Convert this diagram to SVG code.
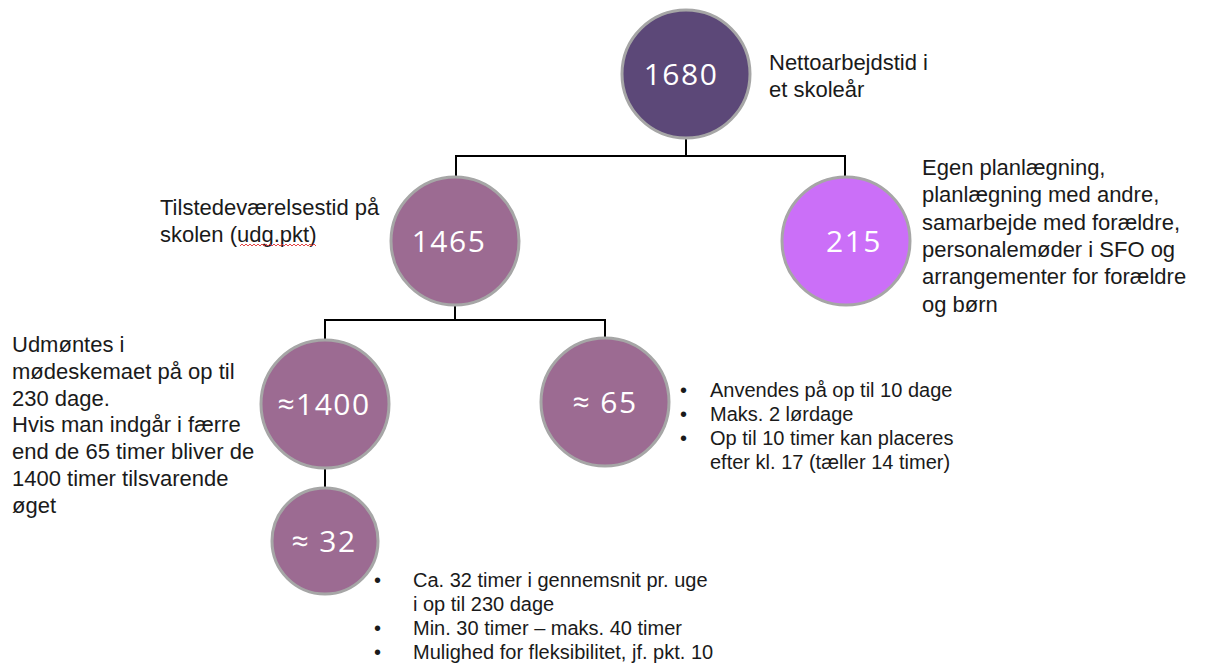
<svg xmlns="http://www.w3.org/2000/svg" width="1205" height="663" viewBox="0 0 1205 663">
<style>
.node circle{stroke:#A6A6A6;stroke-width:3}
.dark{fill:#5C4878}
.mauve{fill:#9C6B92}
.pink{fill:#CB6FF8}
.num{font-family:"Open Sans","Liberation Sans",sans-serif;font-size:30px;fill:#FFFFFF;text-anchor:middle;letter-spacing:1.5px}
.lbl{font-family:"Liberation Sans",Arial,sans-serif;font-size:22px;fill:#1A1A1A}
.bul{font-family:"Liberation Sans",Arial,sans-serif;font-size:20px;fill:#1A1A1A}
.conn{fill:none;stroke:#000000;stroke-width:2}
</style>
<rect width="1205" height="663" fill="#FFFFFF"/>
<g id="connectors">
<path class="conn" d="M686,138 V156 M456,156 H845 M456,155 V177 M845,155 V178"/>
<path class="conn" d="M455,306 V320 M325,320 H605 M325,319 V341 M605,319 V338"/>
<path class="conn" d="M325,469 V487"/>
</g>
<g id="n1680" class="node">
<circle class="dark" cx="686" cy="74" r="64"/>
<text class="num" x="681" y="85">1680</text>
</g>
<g id="l1680">
<text class="lbl" x="769" y="70">Nettoarbejdstid i</text>
<text class="lbl" x="769" y="97">et skoleår</text>
</g>
<g id="n1465" class="node">
<circle class="mauve" cx="455" cy="241" r="64"/>
<text class="num" x="449" y="252">1465</text>
</g>
<g id="l1465">
<text class="lbl" x="160" y="215">Tilstedeværelsestid på</text>
<text class="lbl" x="160" y="242">skolen (udg.pkt)</text>
<path d="M240,246 l2,-2 l2,2 l2,-2 l2,2 l2,-2 l2,2 l2,-2 l2,2 l2,-2 l2,2 l2,-2 l2,2 l2,-2 l2,2 l2,-2 l2,2 l2,-2 l2,2 l2,-2 l2,2 l2,-2 l2,2 l2,-2 l2,2 l2,-2 l2,2 l2,-2 l2,2 l2,-2 l2,2 l2,-2 l2,2 l2,-2 l2,2 l2,-2 l2,2 l2,-2 l2,2" fill="none" stroke="#E03030" stroke-width="0.9"/>
</g>
<g id="n215" class="node">
<circle class="pink" cx="846" cy="241" r="64"/>
<text class="num" x="854" y="252">215</text>
</g>
<g id="l215">
<text class="lbl" x="922" y="175">Egen planlægning,</text>
<text class="lbl" x="922" y="202">planlægning med andre,</text>
<text class="lbl" x="922" y="230">samarbejde med forældre,</text>
<text class="lbl" x="922" y="257">personalemøder i SFO og</text>
<text class="lbl" x="922" y="284">arrangementer for forældre</text>
<text class="lbl" x="922" y="312">og børn</text>
</g>
<g id="n1400" class="node">
<circle class="mauve" cx="325" cy="404" r="64"/>
<text class="num" x="324" y="415">≈1400</text>
</g>
<g id="l1400">
<text class="lbl" x="12" y="352">Udmøntes i</text>
<text class="lbl" x="12" y="379">mødeskemaet på op til</text>
<text class="lbl" x="12" y="406">230 dage.</text>
<text class="lbl" x="12" y="432">Hvis man indgår i færre</text>
<text class="lbl" x="12" y="459">end de 65 timer bliver de</text>
<text class="lbl" x="12" y="486">1400 timer tilsvarende</text>
<text class="lbl" x="12" y="513">øget</text>
</g>
<g id="n65" class="node">
<circle class="mauve" cx="605" cy="402" r="64"/>
<text class="num" x="605" y="413">≈ 65</text>
</g>
<g id="l65">
<text class="bul" x="680" y="397">•</text>
<text class="bul" x="710" y="397">Anvendes på op til 10 dage</text>
<text class="bul" x="680" y="421">•</text>
<text class="bul" x="710" y="421">Maks. 2 lørdage</text>
<text class="bul" x="680" y="445">•</text>
<text class="bul" x="710" y="445">Op til 10 timer kan placeres</text>
<text class="bul" x="710" y="469">efter kl. 17 (tæller 14 timer)</text>
</g>
<g id="n32" class="node">
<circle class="mauve" cx="325" cy="541" r="53"/>
<text class="num" x="324" y="552">≈ 32</text>
</g>
<g id="l32">
<text class="bul" x="374" y="587">•</text>
<text class="bul" x="413" y="587">Ca. 32 timer i gennemsnit pr. uge</text>
<text class="bul" x="413" y="611">i op til 230 dage</text>
<text class="bul" x="374" y="635">•</text>
<text class="bul" x="413" y="635">Min. 30 timer – maks. 40 timer</text>
<text class="bul" x="374" y="659">•</text>
<text class="bul" x="413" y="659">Mulighed for fleksibilitet, jf. pkt. 10</text>
</g>
</svg>
